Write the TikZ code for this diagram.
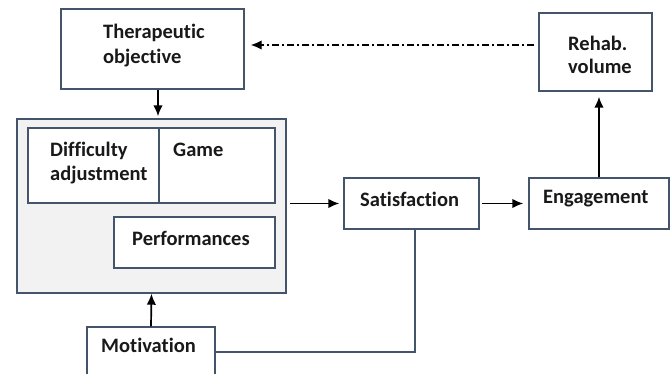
\documentclass[tikz,border=0pt]{standalone}
\usepackage{fontspec}
\setmainfont{Carlito}[Ligatures={NoCommon}]
\usetikzlibrary{arrows.meta}
\definecolor{boxline}{RGB}{68,84,106}
\definecolor{panel}{RGB}{242,242,242}
\begin{document}
\begin{tikzpicture}[x=1pt,y=-1pt,
  box/.style={draw=boxline, line width=1.4pt, fill=white, inner sep=0pt},
  lbl/.style={anchor=base west, inner sep=0pt, font=\fontsize{20.5}{24}\selectfont\bfseries, text=black!90},
  arr/.style={-{Latex[length=11pt,width=9.5pt]}, line width=1.7pt},
  dashdotline/.style={dash pattern=on 7pt off 3pt on 2pt off 3pt}]
\useasboundingbox (0,0) rectangle (671,373);
\clip (0,0) rectangle (671,373);
% boxes
\node[box, minimum width=183pt, minimum height=80pt] (ther) at (152.5,49) {};
\node[box, minimum width=113pt, minimum height=78pt] (rehab) at (595.5,52) {};
\node[box, fill=panel, minimum width=269pt, minimum height=174pt] (panel) at (151.5,206) {};
\node[box, minimum width=131pt, minimum height=75pt] (diff) at (93.5,165.5) {};
\node[box, minimum width=116pt, minimum height=75pt] (game) at (217,165.5) {};
\node[box, minimum width=161pt, minimum height=51pt] (perf) at (194.5,242.5) {};
\node[box, minimum width=128pt, minimum height=53pt] (motiv) at (151,353.5) {};
\node[box, minimum width=135pt, minimum height=51pt] (sat) at (411.5,203.5) {};
\node[box, minimum width=140pt, minimum height=51pt] (eng) at (599,203.5) {};
% labels
\node[lbl] (therA) at (103,38) {Therapeutic};
\node[lbl] (therB) at (103,63) {objective};
\node[lbl] (diffA) at (50,156) {Difficulty};
\node[lbl] (diffB) at (50,180) {adjustment};
\node[lbl] (gameT) at (173,156) {Game};
\node[lbl] (perfT) at (132,245) {Performances};
\node[lbl] (motivT) at (101,352) {Motivation};
\node[lbl] (satT) at (360,206) {Satisfaction};
\node[lbl] (engT) at (543,203) {Engagement};
\node[lbl] (rehabA) at (568,50) {Rehab.};
\node[lbl] (rehabB) at (568,73) {volume};
% connectors
\draw[arr, shorten >=2pt] ([xshift=5.5pt]ther.south) -- ([xshift=5.5pt]ther.south |- panel.north);
\draw[arr] (motiv.north) -- (panel.south);
\draw[arr, shorten <=3pt, shorten >=4pt] (panel.east |- sat.west) -- (sat.west);
\draw[arr, shorten <=2pt, shorten >=5pt] (sat.east) -- (eng.west);
\draw[arr, shorten >=5pt] (eng.north) -- (eng.north |- rehab.south);
\coordinate (dsrc) at (rehab.west |- 0,45);
\coordinate (ddst) at (ther.east |- 0,45);
\draw[arr, dashdotline, line width=1.4pt, shorten <=4pt, shorten >=6pt] (dsrc) -- (ddst);
\draw[boxline, line width=1.3pt] (motiv.east |- 0,352) -| ([xshift=3.5pt]sat.south);
\end{tikzpicture}
\end{document}
